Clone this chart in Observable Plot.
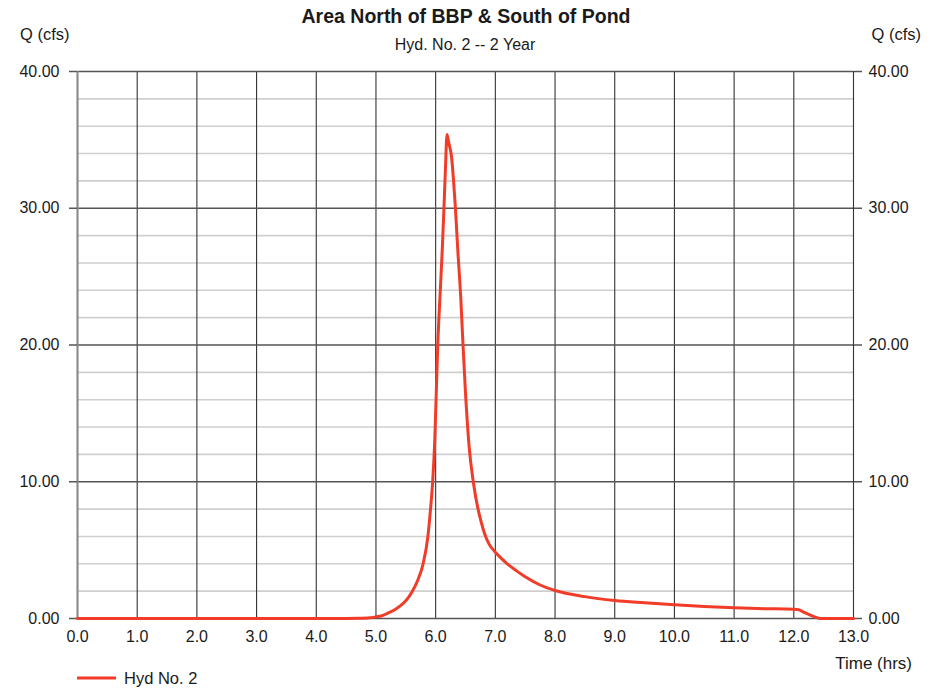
<!DOCTYPE html>
<html>
<head>
<meta charset="utf-8">
<script src="https://cdn.jsdelivr.net/npm/d3@7"></script>
<script src="https://cdn.jsdelivr.net/npm/@observablehq/plot@0.6"></script>
<style>
  html, body { margin: 0; padding: 0; background: #fff; }
  #chart { position: relative; width: 944px; height: 688px; }
  svg { font-family: "Liberation Sans", Arial, sans-serif; }
</style>
</head>
<body>
<div id="chart"></div>
<script>
const titleText = "Area North of BBP & South of Pond";
const subtitleText = "Hyd. No. 2 -- 2 Year";
const seriesName = "Hyd No. 2";

const timeHrs = [0, 4.5, 4.7, 4.9, 5.0, 5.1, 5.2, 5.3, 5.4, 5.5, 5.61, 5.7, 5.79, 5.87, 5.91, 5.95, 5.985, 6.035, 6.08, 6.11, 6.14, 6.165, 6.19, 6.21, 6.235, 6.265, 6.3, 6.33, 6.37, 6.42, 6.455, 6.5, 6.56, 6.63, 6.71, 6.76, 6.82, 6.9, 7.0, 7.1, 7.2, 7.35, 7.5, 7.75, 8.0, 8.5, 9.0, 9.5, 10.0, 10.5, 11.0, 11.5, 12.0, 12.08, 12.15, 12.25, 12.35, 12.45, 13.0];
const flowCfs = [0, 0, 0.01, 0.05, 0.12, 0.2, 0.4, 0.6, 0.9, 1.3, 2.0, 2.8, 4.0, 6.0, 7.8, 10.0, 13.0, 20.0, 24.2, 26.9, 30.1, 33.0, 35.4, 35.0, 34.5, 33.8, 32.0, 30.1, 27.0, 23.5, 20.3, 16.5, 12.6, 10.0, 8.0, 7.1, 6.2, 5.4, 4.85, 4.4, 4.0, 3.5, 3.05, 2.45, 2.05, 1.6, 1.32, 1.15, 1.0, 0.88, 0.78, 0.72, 0.67, 0.64, 0.5, 0.3, 0.12, 0.0, 0.0];

const xTicks = d3.range(0, 13.01, 1);
const yMajor = [0, 10, 20, 30, 40];
const yMinor = d3.range(0, 40.01, 2).filter(v => v % 10 !== 0);

const data = timeHrs.map((t, i) => ({t, q: flowCfs[i]}));

const plot = Plot.plot({
  width: 944,
  height: 688,
  marginLeft: 77,
  marginRight: 91,
  marginTop: 71,
  marginBottom: 70,
  x: {domain: [0, 13]},
  y: {domain: [0, 40]},
  style: {fontFamily: "Liberation Sans, Arial, sans-serif", fontSize: "16px", color: "#1a1a1a"},
  marks: [
    Plot.ruleY(yMinor, {stroke: "#cfcfcf", strokeWidth: 1.6}),
    Plot.ruleX(xTicks, {stroke: "#333", strokeWidth: 1.1}),
    Plot.ruleY(yMajor, {stroke: "#555", strokeWidth: 1.5}),
    Plot.ruleX([0], {stroke: "#888", strokeWidth: 2}),
    Plot.axisY({anchor: "left", ticks: yMajor, tickFormat: d => d.toFixed(2), tickSize: 8, tickPadding: 10, stroke: "#555", strokeWidth: 1.5, label: null}),
    Plot.axisY({anchor: "right", ticks: yMajor, tickFormat: d => d.toFixed(2), tickSize: 8, tickPadding: 7, stroke: "#555", strokeWidth: 1.5, label: null}),
    Plot.axisX({anchor: "bottom", ticks: xTicks, tickFormat: d => d.toFixed(1), tickSize: 0, tickPadding: 12, label: null}),
    Plot.line(data, {x: "t", y: "q", stroke: "#f03c28", strokeWidth: 3, curve: "monotone-x"})
  ]
});

document.getElementById("chart").appendChild(plot);

const svg = d3.select(plot);
const addText = (x, y, txt, opts = {}) => svg.append("text")
  .attr("x", x).attr("y", y)
  .attr("text-anchor", opts.anchor || "start")
  .attr("font-size", opts.size || 16.5)
  .attr("font-weight", opts.weight || "normal")
  .attr("fill", "#1a1a1a")
  .attr("font-family", "Liberation Sans, Arial, sans-serif")
  .text(txt);

addText(466, 23, titleText, {anchor: "middle", size: 19.5, weight: "bold"});
addText(465, 50, subtitleText, {anchor: "middle", size: 16});
addText(20, 40, "Q (cfs)");
addText(921, 40, "Q (cfs)", {anchor: "end"});
addText(912, 669, "Time (hrs)", {anchor: "end", size: 17});
svg.append("line").attr("x1", 77).attr("x2", 116).attr("y1", 678).attr("y2", 678)
  .attr("stroke", "#f03c28").attr("stroke-width", 3);
addText(124, 684, seriesName);
</script>
</body>
</html>
